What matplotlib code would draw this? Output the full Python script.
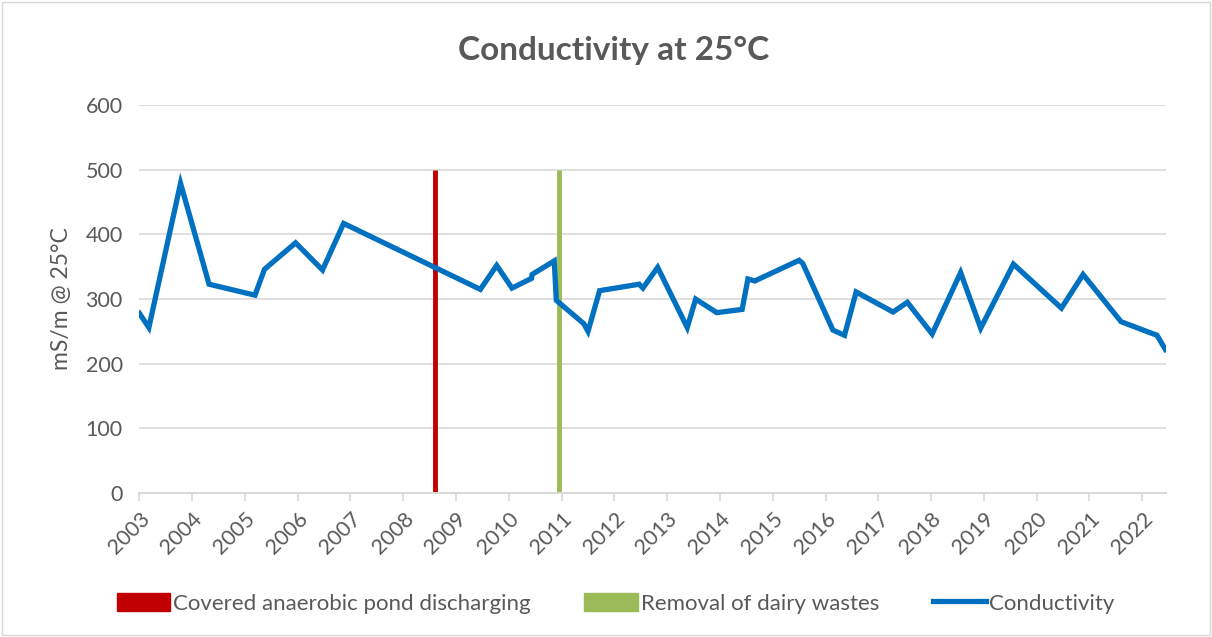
import matplotlib
matplotlib.use("Agg")
import matplotlib.pyplot as plt
from matplotlib.patches import Patch
from matplotlib.lines import Line2D

plt.rcParams['font.family'] = ['Lato', 'DejaVu Sans']

# sample dates as decimal years, conductivity in mS/m
years = [2003.0, 2003.18, 2003.78, 2004.32, 2005.19, 2005.37, 2005.96, 2006.47,
         2006.87, 2009.46, 2009.77, 2010.06, 2010.43, 2010.44, 2010.86, 2010.90,
         2011.42, 2011.5, 2011.72, 2012.47, 2012.54, 2012.82, 2013.38, 2013.54,
         2013.94, 2014.42, 2014.53, 2014.66, 2015.50, 2015.57, 2016.14, 2016.36,
         2016.58, 2017.28, 2017.55, 2018.02, 2018.56, 2018.94, 2019.56, 2020.47,
         2020.88, 2021.60, 2022.28, 2022.44]
conductivity = [278, 256, 479, 323, 306, 346, 387, 345,
                417, 315, 352, 317, 332, 338, 359, 298,
                262, 250, 313, 323, 317, 349, 256, 300,
                279, 284, 331, 328, 360, 355, 252, 244,
                311, 280, 295, 246, 341, 255, 354, 286,
                338, 265, 244, 222]

pond_date = 2008.6
dairy_date = 2010.95
marker_height = 500
tick_years = list(range(2003, 2023))

GREY = "#595959"

fig = plt.figure(figsize=(12.12, 6.37), dpi=100)
ax = fig.add_axes([0.115, 0.226, 0.847, 0.609])

for y in range(100, 700, 100):
    ax.axhline(y, color="#d9d9d9", lw=1.2, zorder=0)

ax.vlines(pond_date, 0, marker_height, color="#C00000", lw=3.5, zorder=2)
ax.vlines(dairy_date, 0, marker_height, color="#9BBB59", lw=3.5, zorder=2)
ax.plot(years, conductivity, color="#0070C0", lw=3.8, solid_joinstyle="miter", zorder=3)

ax.set_xlim(2003, 2022.45)
ax.set_ylim(0, 600)
ax.set_yticks(range(0, 700, 100))
ax.set_xticks(tick_years)
ax.set_xticklabels([str(y) for y in tick_years], rotation=45, ha="right",
                   rotation_mode="anchor")
ax.tick_params(axis="x", colors="#d9d9d9", labelcolor=GREY, labelsize=15.5,
               length=6, width=1.2, direction="out", pad=5)
ax.tick_params(axis="y", length=0, labelcolor=GREY, labelsize=15.5, pad=12)

for s in ["top", "right", "left"]:
    ax.spines[s].set_visible(False)
ax.spines["bottom"].set_color("#d9d9d9")
ax.spines["bottom"].set_linewidth(1.5)

ax.set_ylabel("mS/m @ 25°C", color=GREY, fontsize=16.5, labelpad=10)
fig.text(0.506, 0.92, "Conductivity at 25°C", ha="center", va="center",
         fontsize=24, fontweight="bold", color=GREY)

handles = [Patch(color="#C00000"), Patch(color="#9BBB59"),
           Line2D([], [], color="#0070C0", lw=3.8)]
labels = ["Covered anaerobic pond discharging", "Removal of dairy wastes", "Conductivity"]
leg = fig.legend(handles, labels, loc="center", bbox_to_anchor=(0.508, 0.053), ncol=3,
                 frameon=False, fontsize=16, handlelength=2.4, handleheight=0.9,
                 handletextpad=0.15, columnspacing=2.4)
for t in leg.get_texts():
    t.set_color(GREY)

fig.patches.append(plt.Rectangle((0.002, 0.003), 0.996, 0.994, transform=fig.transFigure,
                                 fill=False, edgecolor="#d9d9d9", lw=1))

fig.savefig("out.png", dpi=100)
